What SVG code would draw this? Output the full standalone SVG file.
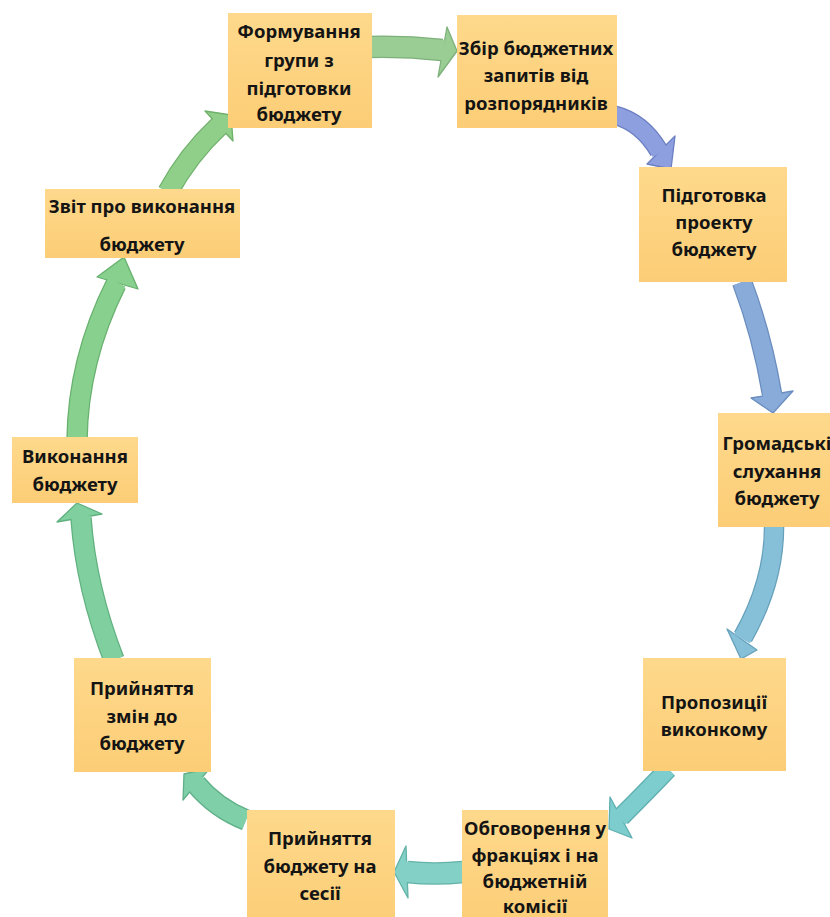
<svg xmlns="http://www.w3.org/2000/svg" width="830" height="917" viewBox="0 0 830 917">
<defs>
<linearGradient id="boxg" x1="0" y1="0" x2="0" y2="1">
<stop offset="0" stop-color="#fed98c"/>
<stop offset="1" stop-color="#fccd76"/>
</linearGradient>
</defs>
<style>
.box{fill:url(#boxg);stroke:none}
.t{font-family:"Noto Sans","Open Sans","DejaVu Sans",sans-serif;font-weight:700;font-size:18.5px;fill:#141414;text-anchor:middle}
.so{fill:none;stroke-linecap:butt}
.si{fill:none;stroke-linecap:butt}
.hd{stroke-width:1.3;stroke-linejoin:round}
</style>
<rect width="830" height="917" fill="#ffffff"/>
<g id="connectors">
<g id="a1">
<path class="so" d="M368,47 Q405,46 442,50" stroke="#7eb07a" stroke-width="22.5"/>
<polygon class="hd" points="447,27 457,51 438,77" fill="#9acd94" stroke="#7eb07a"/>
<path class="si" d="M368,47 Q405,46 442,50 l2,0.2" stroke="#9acd94" stroke-width="20"/>
</g>
<g id="a2">
<path class="so" d="M614,115 Q642,122 659,151" stroke="#6b7fc2" stroke-width="19.5"/>
<polygon class="hd" points="675,136 671,169 647,164" fill="#8d9fdf" stroke="#6b7fc2"/>
<path class="si" d="M614,115 Q642,122 659,151 l1,1.7" stroke="#8d9fdf" stroke-width="17"/>
</g>
<g id="a3">
<path class="so" d="M742,282 Q762,335 772,394" stroke="#6a8dbf" stroke-width="20.5"/>
<polygon class="hd" points="751,398 773,413 793,391" fill="#89abd9" stroke="#6a8dbf"/>
<path class="si" d="M742,282 Q762,335 772,394 l0.3,2" stroke="#89abd9" stroke-width="18"/>
</g>
<g id="a4">
<path class="so" d="M774,524 Q775,580 743,637" stroke="#66a0bb" stroke-width="20.5"/>
<polygon class="hd" points="727,629 741,659 757,650" fill="#86bfd8" stroke="#66a0bb"/>
<path class="si" d="M774,524 Q775,580 743,637 l-1,1.8" stroke="#86bfd8" stroke-width="18"/>
</g>
<g id="a5">
<path class="so" d="M668,769 Q648,790 621,817" stroke="#5fafb0" stroke-width="19.5"/>
<polygon class="hd" points="610,797 609,829 632,838" fill="#7ecdce" stroke="#5fafb0"/>
<path class="si" d="M668,769 Q648,790 621,817 l-1.4,1.4" stroke="#7ecdce" stroke-width="17"/>
</g>
<g id="a6">
<path class="so" d="M463,872 Q435,875 407,872" stroke="#63b2a8" stroke-width="22.5"/>
<polygon class="hd" points="406,846 394,872 408,898" fill="#83d0c6" stroke="#63b2a8"/>
<path class="si" d="M463,872 Q435,875 407,872 l-2,-0.2" stroke="#83d0c6" stroke-width="20"/>
</g>
<g id="a7">
<path class="so" d="M246,820 Q216,808 196,784" stroke="#5fb088" stroke-width="21.5"/>
<polygon class="hd" points="183,800 184,774 210,768" fill="#7fcfa8" stroke="#5fb088"/>
<path class="si" d="M246,820 Q216,808 196,784 l-1.3,-1.5" stroke="#7fcfa8" stroke-width="19"/>
</g>
<g id="a8">
<path class="so" d="M114,660 Q86,588 81,518" stroke="#60b080" stroke-width="21.5"/>
<polygon class="hd" points="57,522 77,503 102,514" fill="#80cf9f" stroke="#60b080"/>
<path class="si" d="M114,660 Q86,588 81,518 l-0.1,-2" stroke="#80cf9f" stroke-width="19"/>
</g>
<g id="a9">
<path class="so" d="M77,440 Q78,360 116,284" stroke="#68b06e" stroke-width="21.5"/>
<polygon class="hd" points="97,277 124,257 138,289" fill="#88d08e" stroke="#68b06e"/>
<path class="si" d="M77,440 Q78,360 116,284 l0.9,-1.8" stroke="#88d08e" stroke-width="19"/>
</g>
<g id="a10">
<path class="so" d="M168,192 Q188,155 219,126" stroke="#6fb06a" stroke-width="21.5"/>
<polygon class="hd" points="205,111 231,115 233,141" fill="#8fcf8a" stroke="#6fb06a"/>
<path class="si" d="M168,192 Q188,155 219,126 l1.5,-1.4" stroke="#8fcf8a" stroke-width="19"/>
</g>
</g>
<g id="n1">
<rect class="box" x="228" y="13" width="144" height="115"/>
<text class="t" x="299" y="38">Формування</text>
<text class="t" x="299" y="67">групи з</text>
<text class="t" x="299" y="95">підготовки</text>
<text class="t" x="299" y="121">бюджету</text>
</g>
<g id="n2">
<rect class="box" x="457" y="15" width="160" height="113"/>
<text class="t" x="536" y="55">Збір бюджетних</text>
<text class="t" x="536" y="82">запитів від</text>
<text class="t" x="536" y="110">розпорядників</text>
</g>
<g id="n3">
<rect class="box" x="639" y="167" width="148" height="115"/>
<text class="t" x="714" y="202">Підготовка</text>
<text class="t" x="714" y="229">проекту</text>
<text class="t" x="714" y="256">бюджету</text>
</g>
<g id="n4">
<rect class="box" x="718" y="413" width="116" height="114"/>
<text class="t" x="777" y="450">Громадські</text>
<text class="t" x="777" y="478">слухання</text>
<text class="t" x="777" y="505">бюджету</text>
</g>
<g id="n5">
<rect class="box" x="643" y="658" width="143" height="113"/>
<text class="t" x="714" y="709">Пропозиції</text>
<text class="t" x="714" y="736">виконкому</text>
</g>
<g id="n6">
<rect class="box" x="462" y="810" width="146" height="120"/>
<text class="t" x="535" y="835">Обговорення у</text>
<text class="t" x="535" y="862">фракціях і на</text>
<text class="t" x="535" y="888">бюджетній</text>
<text class="t" x="535" y="913">комісії</text>
</g>
<g id="n7">
<rect class="box" x="247" y="810" width="148" height="120"/>
<text class="t" x="320" y="845">Прийняття</text>
<text class="t" x="320" y="873">бюджету на</text>
<text class="t" x="320" y="900">сесії</text>
</g>
<g id="n8">
<rect class="box" x="74" y="658" width="137" height="114"/>
<text class="t" x="142" y="695">Прийняття</text>
<text class="t" x="142" y="723">змін до</text>
<text class="t" x="142" y="750">бюджету</text>
</g>
<g id="n9">
<rect class="box" x="12" y="437" width="126" height="66"/>
<text class="t" x="75" y="463">Виконання</text>
<text class="t" x="75" y="491">бюджету</text>
</g>
<g id="n10">
<rect class="box" x="45" y="189" width="195" height="69"/>
<text class="t" x="142" y="213">Звіт про виконання</text>
<text class="t" x="142" y="251">бюджету</text>
</g>
</svg>
